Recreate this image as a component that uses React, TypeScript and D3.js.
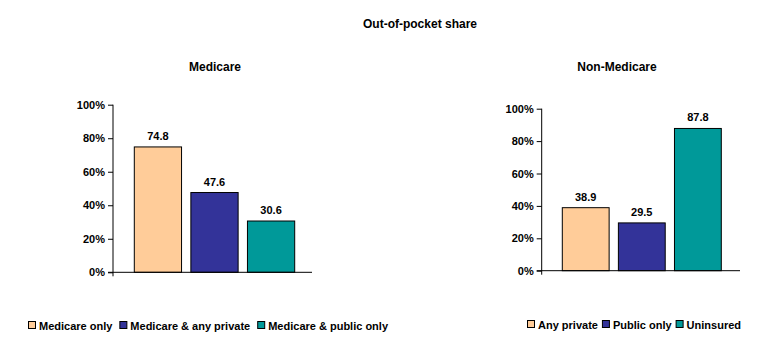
import { useEffect, useRef } from "react";
import * as d3 from "d3";

const medicareCats = ["Medicare only", "Medicare & any private", "Medicare & public only"];
const medicareVals = [74.8, 47.6, 30.6];
const nonMedicareCats = ["Any private", "Public only", "Uninsured"];
const nonMedicareVals = [38.9, 29.5, 87.8];
const colors = ["#FFCC99", "#333399", "#009999"];
const yTicks = [0, 20, 40, 60, 80, 100];

const W = 777;
const H = 364;
const FONT = "'Liberation Sans', Arial, sans-serif";

export default function App() {
  const ref = useRef<SVGSVGElement>(null);

  useEffect(() => {
    const svg = d3.select(ref.current);
    svg.selectAll("*").remove();

    svg
      .append("text")
      .attr("x", 420)
      .attr("y", 28)
      .attr("text-anchor", "middle")
      .attr("font-size", 12)
      .attr("font-weight", "bold")
      .text("Out-of-pocket share");

    const panels = [
      {
        title: "Medicare",
        cats: medicareCats,
        vals: medicareVals,
        axisX: 113,
        xr: [134.3, 294.7],
        endX: 312,
        yr: [272.3, 104.7],
        titleX: 215,
        legendX: 28,
        legendY: 326,
        gap: 7,
      },
      {
        title: "Non-Medicare",
        cats: nonMedicareCats,
        vals: nonMedicareVals,
        axisX: 541.7,
        xr: [562.3, 721.3],
        endX: 740,
        yr: [270.7, 108.7],
        titleX: 617,
        legendX: 527,
        legendY: 325,
        gap: 4,
      },
    ];

    panels.forEach((p) => {
      const x = d3.scaleBand<string>().domain(p.cats).range(p.xr as [number, number]).paddingInner(0.165).paddingOuter(0);
      const y = d3.scaleLinear().domain([0, 100]).range(p.yr as [number, number]);
      const g = svg.append("g");

      g.append("text")
        .attr("x", p.titleX)
        .attr("y", 71)
        .attr("text-anchor", "middle")
        .attr("font-size", 12)
        .attr("font-weight", "bold")
        .text(p.title);

      g.selectAll("rect.bar")
        .data(p.vals)
        .join("rect")
        .attr("class", "bar")
        .attr("x", (_, i) => x(p.cats[i])!)
        .attr("y", (d) => y(d))
        .attr("width", x.bandwidth())
        .attr("height", (d) => y(0) - y(d))
        .attr("fill", (_, i) => colors[i])
        .attr("stroke", "#000")
        .attr("stroke-width", 1);

      g.selectAll("text.val")
        .data(p.vals)
        .join("text")
        .attr("class", "val")
        .attr("x", (_, i) => x(p.cats[i])! + x.bandwidth() / 2)
        .attr("y", (d) => y(d) - 7)
        .attr("text-anchor", "middle")
        .attr("font-size", 11)
        .attr("font-weight", "bold")
        .text((d) => d.toFixed(1));

      const axis = d3
        .axisLeft(y)
        .tickValues(yTicks)
        .tickSize(5)
        .tickFormat((d) => `${d}%`);
      const ag = g
        .append("g")
        .attr("transform", `translate(${p.axisX},0)`)
        .call(axis);
      ag.select(".domain").attr("d", `M0,${y(100)}V${y(0) + 4}`).attr("stroke", "#000");
      ag.selectAll("text")
        .attr("font-size", 11)
        .attr("font-weight", "bold")
        .attr("font-family", FONT)
        .attr("fill", "#000")
        .attr("x", -8);

      g.append("line")
        .attr("x1", p.axisX - 5)
        .attr("x2", p.endX)
        .attr("y1", y(0))
        .attr("y2", y(0))
        .attr("stroke", "#000");

      // legend
      const lg = g.append("g").attr("font-size", 11).attr("font-weight", "bold");
      let cx = p.legendX;
      p.cats.forEach((c, i) => {
        lg.append("rect")
          .attr("x", cx + 0.5)
          .attr("y", p.legendY - 4.5)
          .attr("width", 7)
          .attr("height", 7)
          .attr("fill", colors[i])
          .attr("stroke", "#000");
        const t = lg
          .append("text")
          .attr("x", cx + 11)
          .attr("y", p.legendY + 4)
          .text(c);
        const tw = (t.node() as SVGTextElement).getComputedTextLength();
        cx += 11 + tw + p.gap;
      });
    });
  }, []);

  return (
    <svg
      ref={ref}
      width={W}
      height={H}
      style={{ display: "block", position: "absolute", left: 0, top: 0, background: "#fff", fontFamily: FONT }}
    />
  );
}
